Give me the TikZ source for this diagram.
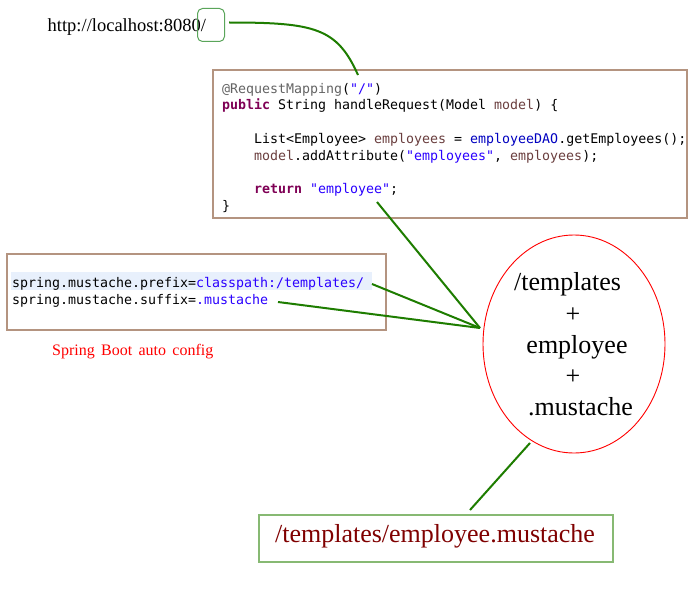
\documentclass[tikz,border=0pt]{standalone}
\usepackage{fontspec}
\setmainfont{Liberation Serif}
\newfontfamily\codefont{DejaVu Sans Mono}
\usetikzlibrary{shapes.geometric}
\definecolor{linkgreen}{RGB}{30,125,0}
\definecolor{framebrown}{RGB}{180,148,128}
\definecolor{slashgreen}{RGB}{90,165,90}
\definecolor{resultgreen}{RGB}{135,185,115}
\definecolor{resultred}{RGB}{128,0,0}
\definecolor{annot}{RGB}{100,100,100}
\definecolor{kwc}{RGB}{127,0,85}
\definecolor{strc}{RGB}{42,0,255}
\definecolor{varc}{RGB}{106,62,62}
\definecolor{fieldc}{RGB}{0,0,192}
\definecolor{hilite}{RGB}{232,240,252}
\newcommand\kwd[1]{\textcolor{kwc}{\bfseries #1}}
\newcommand\strg[1]{\textcolor{strc}{#1}}
\newcommand\vr[1]{\textcolor{varc}{#1}}
\newcommand\fld[1]{\textcolor{fieldc}{#1}}
\begin{document}
\begin{tikzpicture}[x=1pt,y=-1pt,
  codeline/.style={anchor=base west, inner sep=0pt, font=\codefont\fontsize{13.29}{16}\selectfont},
  link/.style={draw=linkgreen, line width=2pt},
  frame/.style={draw=framebrown, line width=1.5pt, anchor=north west, inner sep=0pt},
  bigtext/.style={anchor=base, inner sep=0pt, font=\fontsize{26}{30}\selectfont}]
\useasboundingbox[fill=white] (0,0) rectangle (690,594);

% URL
\node[anchor=base west, inner sep=0pt, font=\fontsize{18.5}{22}\selectfont] (url) at (47.5,31.7) {http://localhost:8080/};
\node[draw=slashgreen, line width=1pt, rounded corners=5pt, minimum width=27, minimum height=33, inner sep=0pt, anchor=north west] (slash) at (197,8) {};
\coordinate (curvestart) at (229,22.5);
\coordinate (mapend) at (358,75);

% code box
\node[frame, minimum width=474, minimum height=148] (codebox) at (212,69) {};
\node[codeline] (c1) at (222,93) {\textcolor{annot}{@RequestMapping}(\strg{"/"})};
\node[codeline] (c2) at (222,109.5) {\kwd{public} String handleRequest(Model \vr{model}) \{};
\node[codeline] (c3) at (254,143) {List<Employee> \vr{employees} = \fld{employeeDAO}.getEmployees();};
\node[codeline] (c4) at (254,160) {\vr{model}.addAttribute(\strg{"employees"}, \vr{employees});};
\node[codeline] (c5) at (254,193) {\kwd{return} \strg{"employee"};};
\node[codeline] (c6) at (222,210) {\}};

% properties box
\node[frame, minimum width=379, minimum height=76] (propbox) at (6,253) {};
\node[fill=hilite, anchor=north west, inner sep=0pt, minimum width=361, minimum height=18] (hl) at (11,272) {};
\node[codeline] (p1) at (12,287) {spring.mustache.prefix=\strg{classpath:/templates/}};
\node[codeline] (p2) at (12,304) {spring.mustache.suffix=\strg{.mustache}};
\node[anchor=base west, inner sep=0pt, text=red, font=\fontsize{16}{19}\selectfont] (auto) at (52,355) {Spring\hspace{6.3pt}Boot\hspace{6.3pt}auto\hspace{6.3pt}config};

% ellipse
\node[draw=red, line width=0.9pt, ellipse, minimum width=182, minimum height=218, inner sep=0pt] (ell) at (574,344) {};
\node[bigtext] (e1) at (567.5,290) {/templates};
\node[bigtext] (e2) at (573,322) {+};
\node[bigtext] (e3) at (577,353) {employee};
\node[bigtext] (e4) at (573,384) {+};
\node[bigtext] (e5) at (580.5,415) {.mustache};

% result box
\node[draw=resultgreen, line width=1.5pt, anchor=north west, inner sep=0pt, minimum width=354, minimum height=47] (result) at (258,514) {};
\node[bigtext, text=resultred] (rtext) at (435,542) {/templates/employee.mustache};

% connectors
\coordinate (conv) at (480,328);
\coordinate (retstart) at (377,202);
\coordinate (prefend) at (372,284);
\coordinate (sufend) at (278,302);
\coordinate (ellbottom) at (530,443);
\coordinate (resulttop) at (470,510);
\draw[link] (curvestart) .. controls (315,22.5) and (337,28) .. (mapend);
\draw[link] (retstart) -- (conv);
\draw[link] (prefend) -- (conv);
\draw[link] (sufend) -- (conv);
\draw[link] (ellbottom) -- (resulttop);
\end{tikzpicture}
\end{document}
